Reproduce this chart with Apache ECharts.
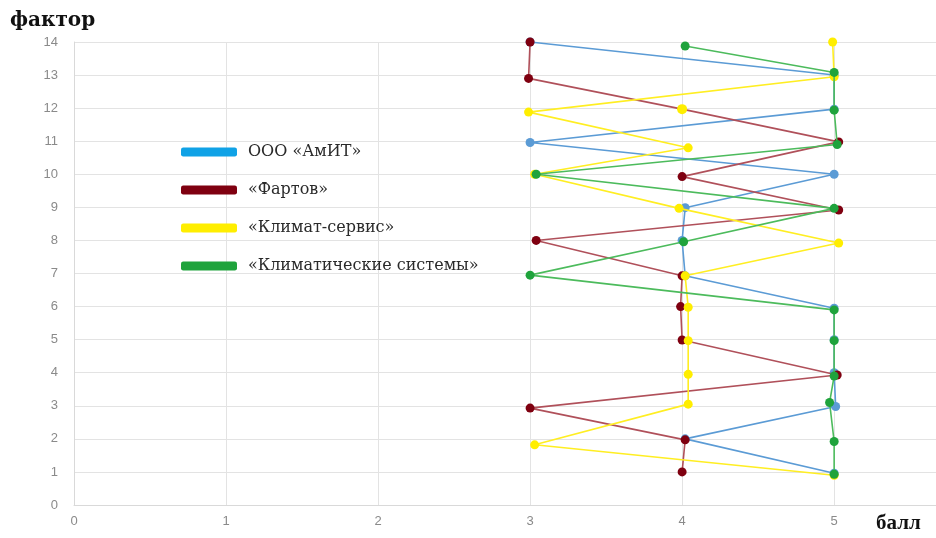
<!DOCTYPE html>
<html>
<head>
<meta charset="utf-8">
<script src="https://cdn.jsdelivr.net/npm/echarts@6/dist/echarts.min.js"></script>
<style>
html,body{margin:0;padding:0;background:#fff;}
#chart{width:936px;height:538px;}
</style>
</head>
<body>
<div id="chart"></div>
<script>
// Series names
var seriesNames = ['ООО «АмИТ»', '«Фартов»', '«Климат-сервис»', '«Климатические системы»'];
// Factor numbers 1..14 (order of connection)
var factors = [1,2,3,4,5,6,7,8,9,10,11,12,13,14];

// ООО «АмИТ» — балл (x) and фактор position (y)
var amitX = [5, 4.02, 5.01, 5, 5, 5, 4.02, 4, 4.02, 5, 3, 5, 5, 3];
var amitY = [0.96, 2, 2.98, 4, 5, 5.95, 6.93, 8, 8.99, 10, 10.96, 11.97, 13, 14];

// «Фартов»
var fartovX = [4, 4.02, 3, 5.02, 4, 3.99, 4, 3.04, 5.03, 4, 5.03, 4, 2.99, 3];
var fartovY = [1, 1.97, 2.93, 3.93, 4.99, 6, 6.93, 8, 8.92, 9.93, 10.98, 11.97, 12.9, 14];

// «Климат-сервис»
var klimatX = [5, 3.03, 4.04, 4.04, 4.04, 4.04, 4.02, 5.03, 3.98, 3.03, 4.04, 2.99, 5, 4.99];
var klimatY = [0.9, 1.82, 3.05, 3.95, 4.97, 5.98, 6.93, 7.92, 8.97, 10, 10.8, 11.88, 12.95, 14];

// «Климатические системы»
var sistX = [5, 5, 4.97, 5, 5, 5, 3, 4.01, 5, 3.04, 5.02, 5, 5, 4.02];
var sistY = [0.93, 1.92, 3.1, 3.9, 4.97, 5.9, 6.95, 7.96, 8.97, 10, 10.9, 11.94, 13.08, 13.88];

var xTicks = [0,1,2,3,4,5];
var yTicks = [0,1,2,3,4,5,6,7,8,9,10,11,12,13,14];

var lineColors = ['#5b9bd5', '#b0505a', '#ffee22', '#4cbb5c'];
var markerColors = ['#5b9bd5', '#7f0010', '#ffee00', '#1fa33c'];
var legendColors = ['#10a2e6', '#7f0010', '#ffee00', '#1fa33c'];

function pairs(xs, ys){ return xs.map(function(x,i){ return [x, ys[i]]; }); }

var dataSets = [pairs(amitX, amitY), pairs(fartovX, fartovY), pairs(klimatX, klimatY), pairs(sistX, sistY)];
// In the reference the 12th «Фартов» marker is drawn yellow
dataSets[1][11] = {value: dataSets[1][11], itemStyle: {color: '#ffee00'}, symbolSize: 10};

var zOrder = [2, 3, 4, 5];
var series = dataSets.map(function(d, i){
  return {
    name: seriesNames[i],
    type: 'line',
    data: d,
    symbol: 'circle',
    symbolSize: 9,
    clip: false,
    z: zOrder[i],
    lineStyle: {color: lineColors[i], width: 1.6},
    itemStyle: {color: markerColors[i], borderWidth: 0},
    emphasis: {disabled: true},
    animation: false
  };
});

var chart = echarts.init(document.getElementById('chart'));
chart.setOption({
  backgroundColor: '#fff',
  animation: false,
  grid: {left: 74, right: 0, top: 42, bottom: 33, containLabel: false},
  xAxis: {
    type: 'value', min: 0, max: 5.67, interval: 1,
    axisLine: {show: true, lineStyle: {color: '#d9d9d9', width: 1}},
    axisTick: {show: false},
    splitLine: {show: true, lineStyle: {color: '#e3e3e3', width: 1}},
    axisLabel: {
      color: '#8a8a8a', fontFamily: 'Liberation Sans', fontSize: 13, margin: 10,
      showMaxLabel: false,
      formatter: function(v){ return xTicks.indexOf(v) >= 0 ? String(v) : ''; }
    }
  },
  yAxis: {
    type: 'value', min: 0, max: 14, interval: 1,
    axisLine: {show: true, lineStyle: {color: '#d9d9d9', width: 1}},
    axisTick: {show: false},
    splitLine: {show: true, lineStyle: {color: '#e3e3e3', width: 1}},
    axisLabel: {
      color: '#8a8a8a', fontFamily: 'Liberation Sans', fontSize: 13, margin: 16,
      formatter: function(v){ return yTicks.indexOf(v) >= 0 ? String(v) : ''; }
    }
  },
  legend: {
    orient: 'vertical', left: 176, top: 139,
    itemWidth: 56, itemHeight: 9, itemGap: 22,
    icon: 'roundRect',
    textStyle: {fontFamily: 'DejaVu Serif', fontSize: 16, color: '#2a2a2a', padding: [0,0,0,6]},
    data: seriesNames.map(function(n, i){
      return {name: n, itemStyle: {color: legendColors[i]}, lineStyle: {color: legendColors[i], width: 0}};
    }),
    selectedMode: false
  },
  graphic: [
    {type: 'text', left: 10, top: 11, style: {text: 'фактор', font: 'bold 20px "DejaVu Serif"', fill: '#111'}},
    {type: 'text', left: 876, top: 513, style: {text: 'балл', font: 'bold 21px "Liberation Serif"', fill: '#111'}}
  ],
  series: series
});
</script>
</body>
</html>
